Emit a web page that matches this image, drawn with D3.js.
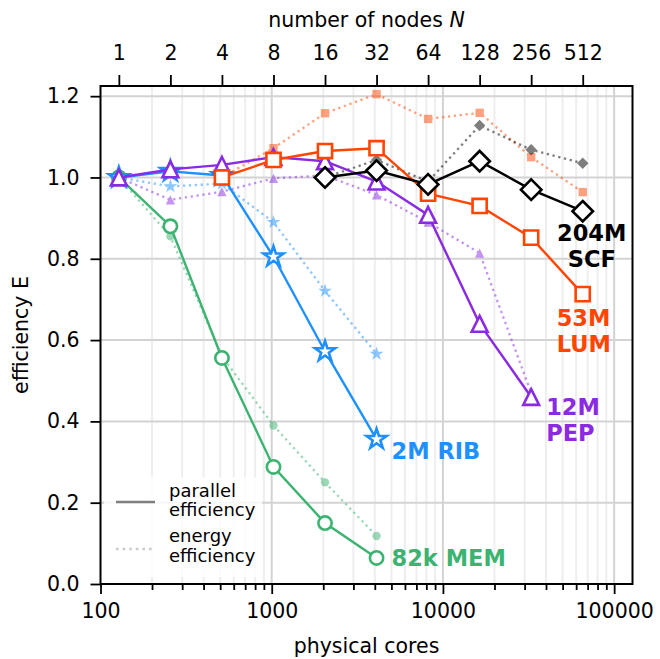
<!DOCTYPE html>
<html>
<head>
<meta charset="utf-8">
<script src="https://cdn.jsdelivr.net/npm/d3@7"></script>
<style>
  body { margin: 0; background: #fff; }
  svg text { font-family: "DejaVu Sans", sans-serif; fill: #000; }
</style>
</head>
<body>
<div class="chart"></div>
<script>
// node counts -> physical cores (128 cores per node)
var coresPerNode = 128;
var nodeTicks = [1, 2, 4, 8, 16, 32, 64, 128, 256, 512];
var coreTicks = [100, 1000, 10000, 100000];
var effTicks = [0, 0.2, 0.4, 0.6, 0.8, 1.0, 1.2];

var memNodes = [1, 2, 4, 8, 16, 32];
var memPar = [1.0, 0.88, 0.556, 0.288, 0.15, 0.064];
var memEng = [1.0, 0.855, 0.56, 0.39, 0.25, 0.118];

var ribNodes = [1, 2, 4, 8, 16, 32];
var ribPar = [1.0, 1.015, 1.005, 0.805, 0.572, 0.356];
var ribEng = [1.0, 0.978, 0.985, 0.89, 0.721, 0.566];

var pepNodes = [1, 2, 4, 8, 16, 32, 64, 128, 256];
var pepPar = [1.0, 1.02, 1.031, 1.05, 1.04, 0.99, 0.908, 0.64, 0.46];
var pepEng = [1.0, 0.945, 0.965, 0.998, 1.005, 0.957, 0.89, 0.814, 0.47];

var lumNodes = [4, 8, 16, 32, 64, 128, 256, 512];
var lumPar = [1.0, 1.043, 1.065, 1.072, 0.96, 0.93, 0.852, 0.713];
var lumEng = [1.0, 1.072, 1.158, 1.205, 1.144, 1.159, 1.05, 0.964];

var scfNodes = [16, 32, 64, 128, 256, 512];
var scfPar = [1.0, 1.017, 0.983, 1.04, 0.97, 0.917];
var scfEng = [1.0, 1.043, 0.99, 1.128, 1.068, 1.035];

// matplotlib-like markers
var triangleUp = {
  draw: function (ctx, size) {
    var r = Math.sqrt(size) / 2;
    ctx.moveTo(0, -r); ctx.lineTo(r, r); ctx.lineTo(-r, r); ctx.closePath();
  }
};
var diamond = {
  draw: function (ctx, size) {
    var r = Math.sqrt(size / 2);
    ctx.moveTo(0, -r); ctx.lineTo(r, 0); ctx.lineTo(0, r); ctx.lineTo(-r, 0); ctx.closePath();
  }
};

var series = [
  {nodes: memNodes, par: memPar, eng: memEng, color: "#3cb371", shape: d3.symbolCircle, size: 140, esize: 55,
   label: ["82k MEM"], dx: 15, dy: 8, anchor: "start"},
  {nodes: ribNodes, par: ribPar, eng: ribEng, color: "#1e90ff", shape: d3.symbolStar, size: 125, esize: 60,
   label: ["2M RIB"], dx: 15, dy: 20, anchor: "start"},
  {nodes: pepNodes, par: pepPar, eng: pepEng, color: "#8a2be2", shape: triangleUp, size: 250, esize: 85,
   label: ["12M", "PEP"], dx: 15, dy: 18, anchor: "start"},
  {nodes: lumNodes, par: lumPar, eng: lumEng, color: "#ff4500", shape: d3.symbolSquare, size: 200, esize: 70,
   label: ["53M", "LUM"], dx: -26, dy: 32, anchor: "start"},
  {nodes: scfNodes, par: scfPar, eng: scfEng, color: "#000000", shape: diamond, size: 210, esize: 65,
   label: ["204M", "SCF"], dx: 9, dy: 30, anchor: "middle"}
];

var W = 660, H = 659;
var x = d3.scaleLog().domain([100, 128000]).range([100.5, 632.5]);
var y = d3.scaleLinear().domain([0, 1.225]).range([584, 86]);

var svg = d3.select(".chart").append("svg")
  .attr("width", W).attr("height", H);

// grid
var minor = [];
coreTicks.forEach(function (d) {
  for (var k = 2; k <= 9; k++) if (d * k < 128000) minor.push(d * k);
});
svg.append("g").selectAll("line").data(minor).enter().append("line")
  .attr("x1", function (d) { return x(d); }).attr("x2", function (d) { return x(d); })
  .attr("y1", 86).attr("y2", 584)
  .attr("stroke", "#eeeeee").attr("stroke-width", 2);
svg.append("g").selectAll("line").data(coreTicks.slice(1)).enter().append("line")
  .attr("x1", function (d) { return x(d); }).attr("x2", function (d) { return x(d); })
  .attr("y1", 86).attr("y2", 584)
  .attr("stroke", "#d3d3d3").attr("stroke-width", 2);
svg.append("g").selectAll("line").data(effTicks.slice(1)).enter().append("line")
  .attr("x1", 100.5).attr("x2", 632.5)
  .attr("y1", function (d) { return y(d); }).attr("y2", function (d) { return y(d); })
  .attr("stroke", "#d3d3d3").attr("stroke-width", 2);

var line = d3.line()
  .x(function (d) { return x(d.c); })
  .y(function (d) { return y(d.v); });

function pts(s, vals) {
  return s.nodes.map(function (n, i) { return {c: n * coresPerNode, v: vals[i]}; });
}

// energy efficiency (dotted, faded)
series.forEach(function (s) {
  var g = svg.append("g").attr("opacity", 0.5);
  g.append("path").datum(pts(s, s.eng))
    .attr("d", line).attr("fill", "none")
    .attr("stroke", s.color).attr("stroke-width", 2.3)
    .attr("stroke-dasharray", "2.3 3.6");
  g.selectAll("path.m").data(pts(s, s.eng)).enter().append("path")
    .attr("class", "m")
    .attr("transform", function (d) { return "translate(" + x(d.c) + "," + y(d.v) + ")"; })
    .attr("d", d3.symbol().type(s.shape).size(s.esize))
    .attr("fill", s.color);
});

// parallel efficiency (solid, open markers)
series.forEach(function (s) {
  var g = svg.append("g");
  g.append("path").datum(pts(s, s.par))
    .attr("d", line).attr("fill", "none")
    .attr("stroke", s.color).attr("stroke-width", 2.4);
  g.selectAll("path.m").data(pts(s, s.par)).enter().append("path")
    .attr("class", "m")
    .attr("transform", function (d) { return "translate(" + x(d.c) + "," + y(d.v) + ")"; })
    .attr("d", d3.symbol().type(s.shape).size(s.size))
    .attr("fill", "#fff")
    .attr("stroke", s.color).attr("stroke-width", 2.6);

  var last = pts(s, s.par)[s.nodes.length - 1];
  var t = svg.append("text")
    .attr("x", x(last.c) + s.dx)
    .attr("y", y(last.v) + s.dy)
    .attr("text-anchor", s.anchor)
    .style("font-size", "22.5px").style("font-weight", "bold")
    .style("fill", s.color);
  s.label.forEach(function (l, i) {
    t.append("tspan").attr("x", x(last.c) + s.dx).attr("dy", i === 0 ? 0 : 26).text(l);
  });
});

// legend
var lg = svg.append("g");
lg.append("rect").attr("x", 104).attr("y", 477).attr("width", 158).attr("height", 100)
  .attr("rx", 4).attr("fill", "#fff").attr("opacity", 0.8);
lg.append("line").attr("x1", 116).attr("x2", 155).attr("y1", 502).attr("y2", 502)
  .attr("stroke", "#808080").attr("stroke-width", 2.6);
lg.append("line").attr("x1", 116).attr("x2", 155).attr("y1", 549).attr("y2", 549)
  .attr("stroke", "#808080").attr("stroke-width", 2.6).attr("opacity", 0.4)
  .attr("stroke-dasharray", "2.6 4");
[["parallel", 497], ["efficiency", 516], ["energy", 542], ["efficiency", 562]].forEach(function (d) {
  lg.append("text").attr("x", 169).attr("y", d[1]).style("font-size", "18px").text(d[0]);
});

// axes
function styleAxis(g, fs) {
  g.select(".domain").remove();
  g.selectAll(".tick line").attr("stroke", "#000").attr("stroke-width", 1.8);
  g.selectAll(".tick text").style("font-size", fs).attr("fill", "#000");
}

svg.append("g").attr("transform", "translate(0,584)")
  .call(d3.axisBottom(x).tickValues(minor).tickFormat("").tickSize(6))
  .call(styleAxis, "19px");
svg.append("g").attr("transform", "translate(0,584)")
  .call(d3.axisBottom(x).tickValues(coreTicks).tickFormat(d3.format("d")).tickSize(10).tickPadding(9))
  .call(styleAxis, "20.5px");
svg.append("g").attr("transform", "translate(100.5,0)")
  .call(d3.axisLeft(y).tickValues(effTicks).tickFormat(d3.format(".1f")).tickSize(10).tickPadding(11))
  .call(styleAxis, "20.5px");
svg.append("g").attr("transform", "translate(0,86)")
  .call(d3.axisTop(x).tickValues(nodeTicks.map(function (n) { return n * coresPerNode; }))
    .tickFormat(function (d) { return d / coresPerNode; }).tickSize(11).tickPadding(15))
  .call(styleAxis, "20.5px");

// frame
svg.append("rect").attr("x", 100.5).attr("y", 86).attr("width", 532).attr("height", 498)
  .attr("fill", "none").attr("stroke", "#000").attr("stroke-width", 2);

// axis titles
svg.append("text").attr("x", 366.5).attr("y", 653).attr("text-anchor", "middle")
  .style("font-size", "20.5px").text("physical cores");
svg.append("text").attr("transform", "translate(28,335) rotate(-90)").attr("text-anchor", "middle")
  .style("font-size", "20.5px").text("efficiency E");
var tt = svg.append("text").attr("x", 366.5).attr("y", 27).attr("text-anchor", "middle")
  .style("font-size", "20.5px");
tt.append("tspan").text("number of nodes ");
tt.append("tspan").style("font-style", "italic").text("N");
</script>
</body>
</html>
